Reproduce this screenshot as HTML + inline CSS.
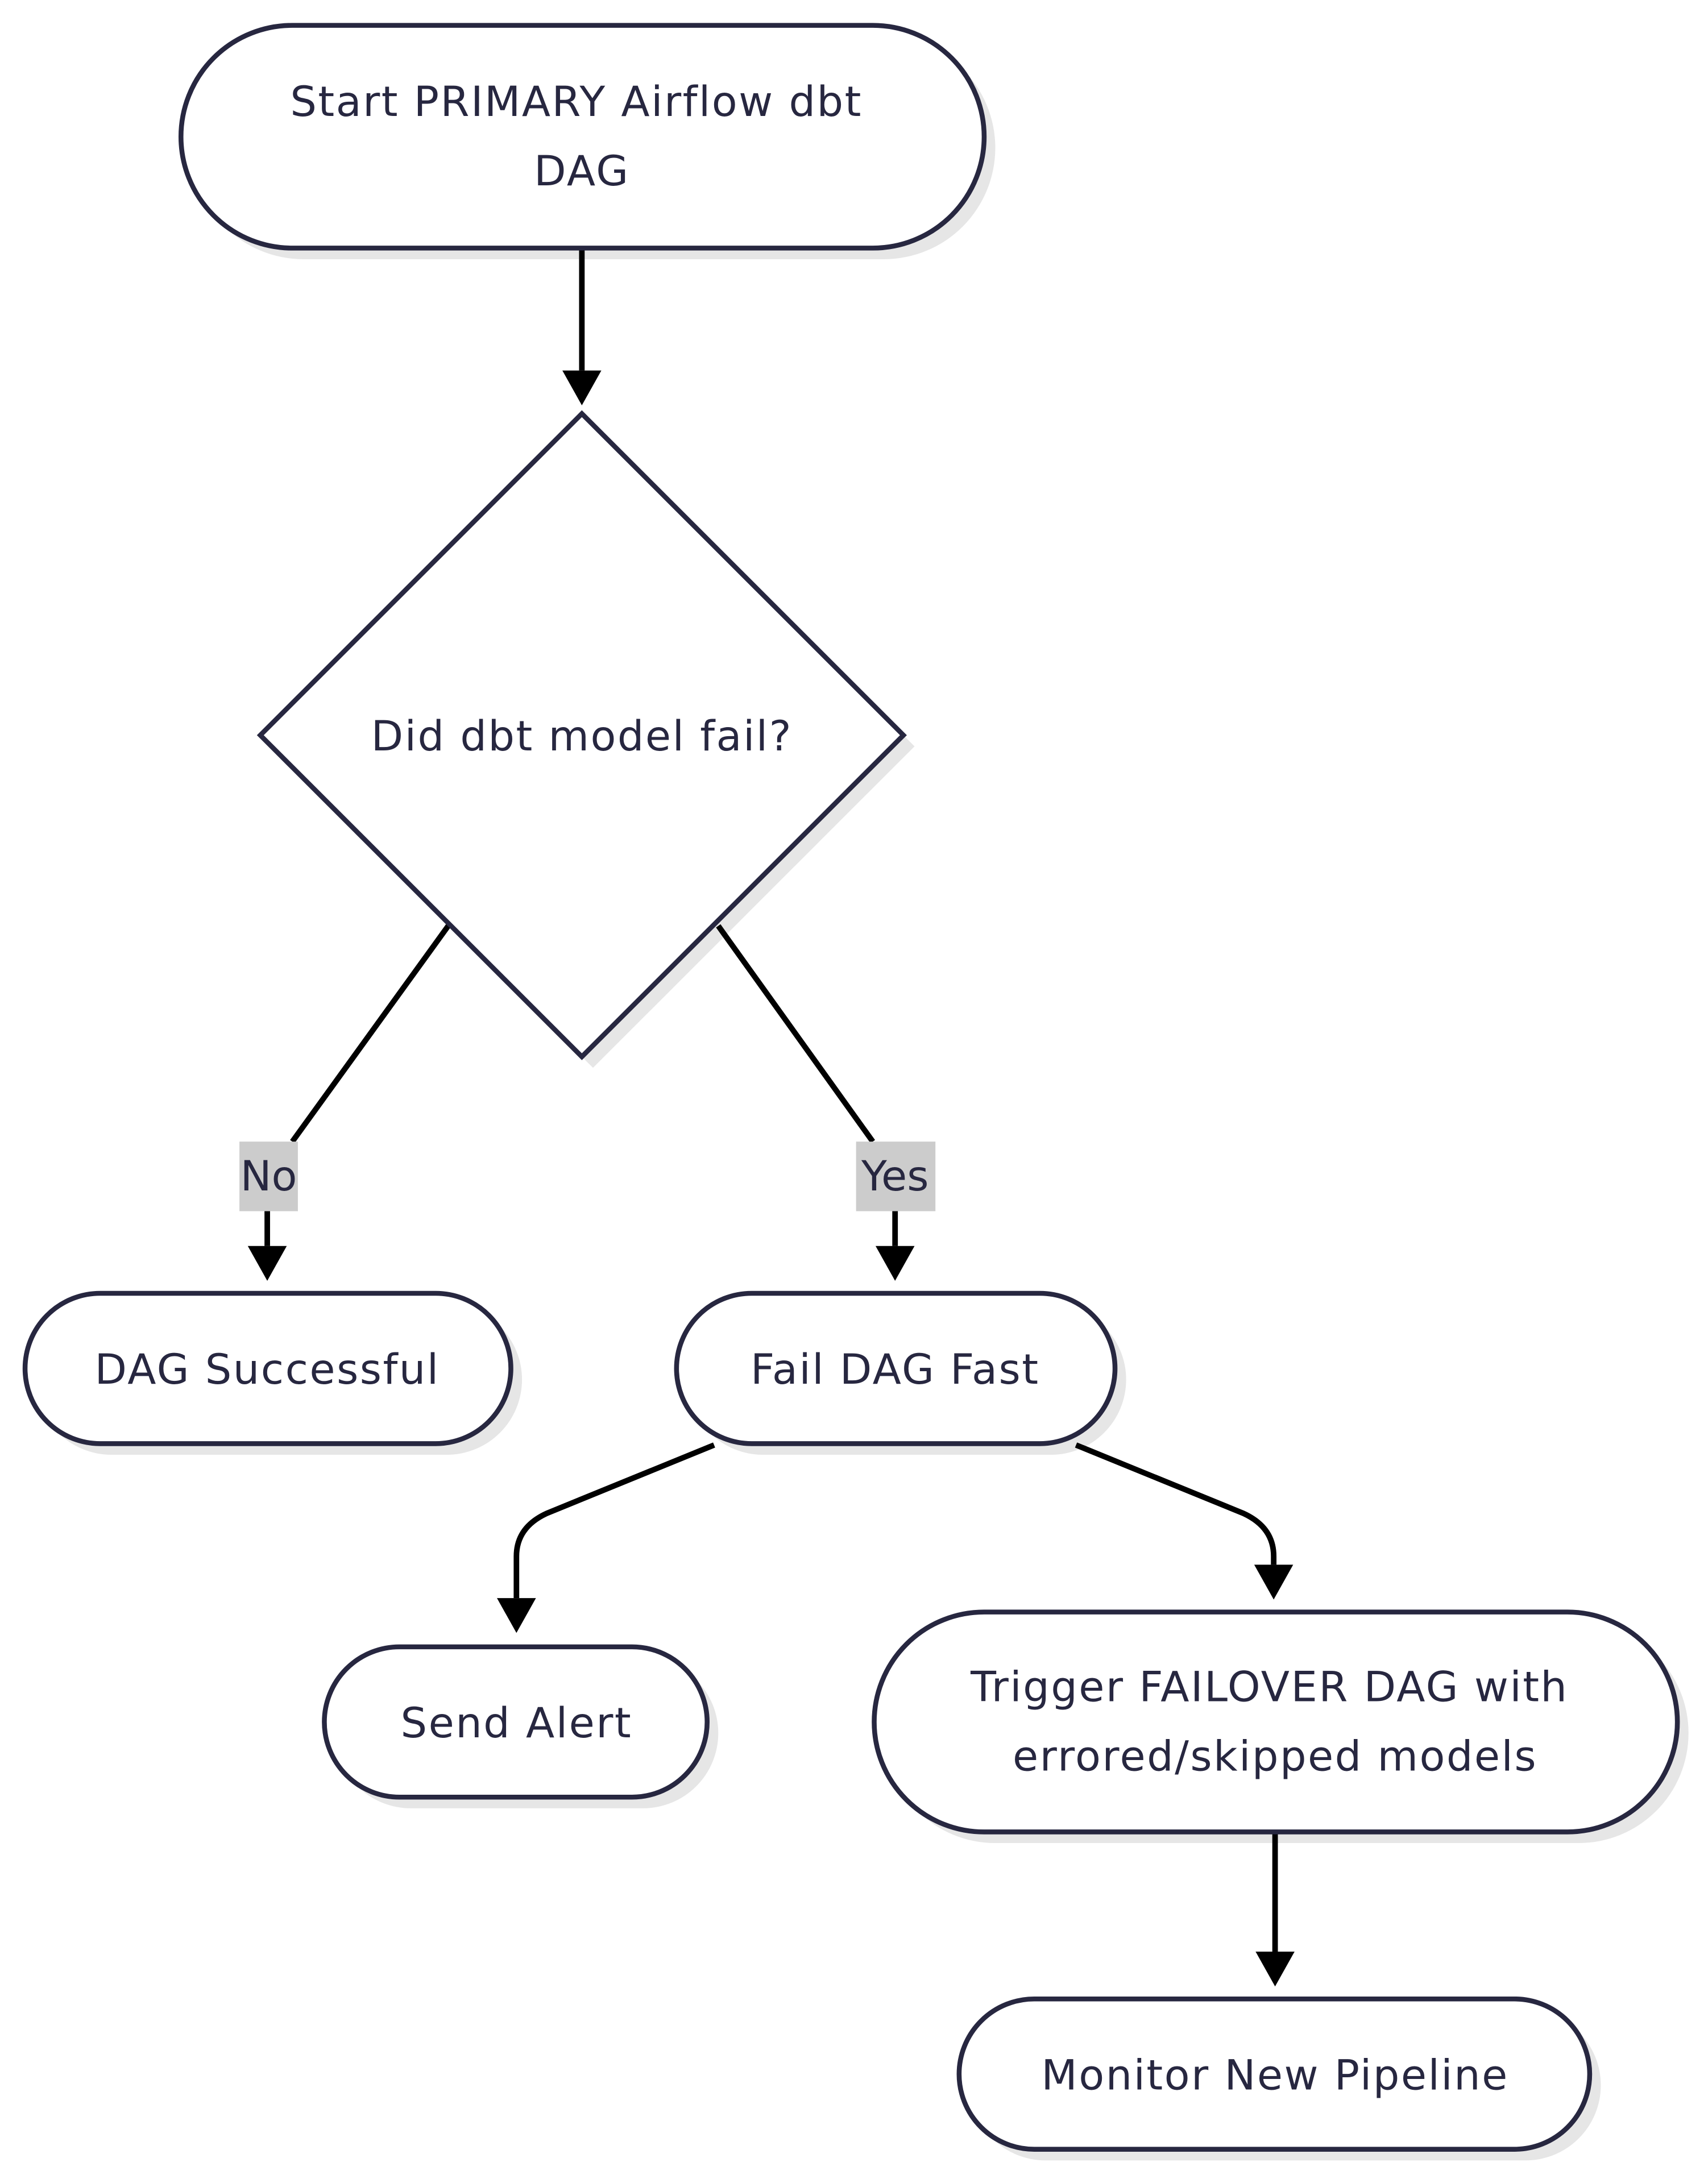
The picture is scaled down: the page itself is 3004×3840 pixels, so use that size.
<!DOCTYPE html>
<html><head><meta charset="utf-8">
<style>
html,body{margin:0;padding:0;background:#fff;}
svg{display:block;}
text{font-family:"DejaVu Sans","Liberation Sans",sans-serif;fill:#272740;font-size:30px;text-anchor:middle;letter-spacing:1px;}
.n{fill:#fff;stroke:#272740;stroke-width:3.5;}
.s{fill:#e6e6e6;stroke:none;}
.e{fill:none;stroke:#000;stroke-width:4;}
</style></head>
<body>
<svg width="3004" height="3840" viewBox="0 0 1227 1568" xmlns="http://www.w3.org/2000/svg">
<!-- shadows -->
<rect class="s" x="138" y="26" width="577" height="160" rx="80"/>
<polygon class="s" points="426,305 657,536 426,767 195,536"/>
<rect class="s" x="26" y="937" width="349" height="108" rx="54"/>
<rect class="s" x="494" y="937" width="315" height="108" rx="54"/>
<rect class="s" x="241" y="1191" width="275" height="108" rx="54"/>
<rect class="s" x="636" y="1166" width="577" height="158" rx="79"/>
<rect class="s" x="697" y="1444" width="453" height="108" rx="54"/>

<!-- edges -->
<path class="e" d="M418,178 L418,266"/>
<polygon points="404,266 432,266 418,291" fill="#000"/>
<path class="e" d="M322,665 L210,820"/>
<path class="e" d="M192,870 L192,895"/>
<polygon points="178,895 206,895 192,920" fill="#000"/>
<path class="e" d="M516,665 L627,820"/>
<path class="e" d="M643,870 L643,895"/>
<polygon points="629,895 657,895 643,920" fill="#000"/>
<path class="e" d="M513,1038 L393,1087 Q371,1097 371,1118 L371,1148"/>
<polygon points="357,1148 385,1148 371,1173" fill="#000"/>
<path class="e" d="M773,1038 L893,1087 Q915,1097 915,1118 L915,1124"/>
<polygon points="901,1124 929,1124 915,1149" fill="#000"/>
<path class="e" d="M916,1316 L916,1402"/>
<polygon points="902,1402 930,1402 916,1427" fill="#000"/>

<!-- labels -->
<rect x="172" y="820" width="42" height="50" fill="#cccccc"/>
<text x="193" y="855" style="letter-spacing:0">No</text>
<rect x="615" y="820" width="57" height="50" fill="#cccccc"/>
<text x="643" y="855" style="letter-spacing:0">Yes</text>

<!-- nodes -->
<rect class="n" x="130" y="18" width="577" height="160" rx="80"/>
<text x="414" y="83">Start PRIMARY Airflow dbt</text>
<text x="418" y="133">DAG</text>

<polygon class="n" points="418,297 649,528 418,759 187,528"/>
<text x="418" y="539">Did dbt model fail?</text>

<rect class="n" x="18" y="929" width="349" height="108" rx="54"/>
<text x="192" y="994">DAG Successful</text>

<rect class="n" x="486" y="929" width="315" height="108" rx="54"/>
<text x="643" y="994">Fail DAG Fast</text>

<rect class="n" x="233" y="1183" width="275" height="108" rx="54"/>
<text x="371" y="1248">Send Alert</text>

<rect class="n" x="628" y="1158" width="577" height="158" rx="79"/>
<text x="912" y="1222">Trigger FAILOVER DAG with</text>
<text x="916" y="1272">errored/skipped models</text>

<rect class="n" x="689" y="1436" width="453" height="108" rx="54"/>
<text x="916" y="1501">Monitor New Pipeline</text>
</svg>
</body></html>
